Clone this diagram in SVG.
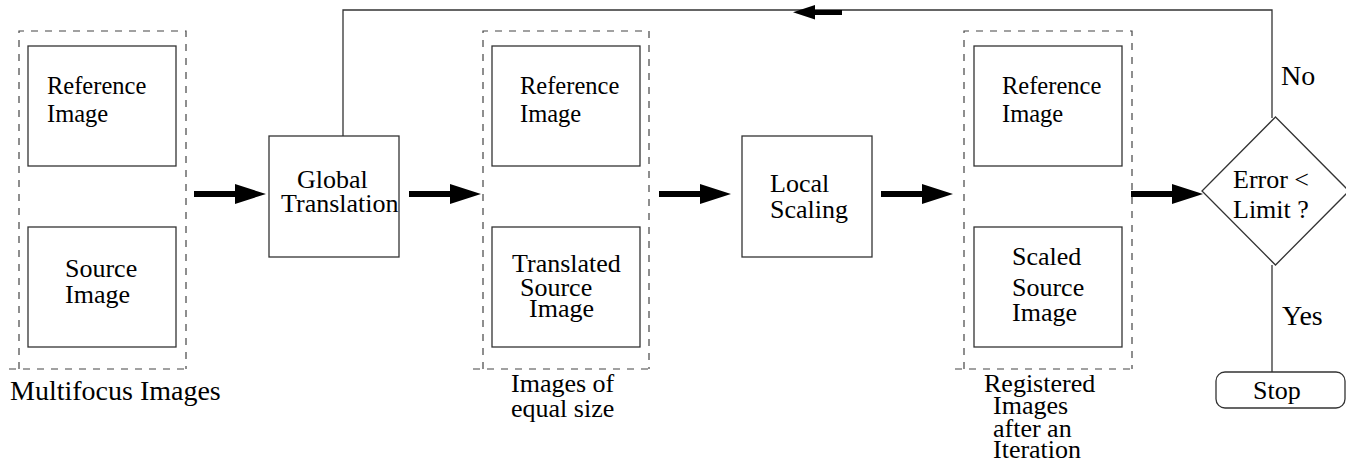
<svg xmlns="http://www.w3.org/2000/svg" width="1346" height="462" viewBox="0 0 1346 462">
<style>
text{fill:#000;font-size:26px}
.ref{font-size:24.5px}
.big{font-size:28px}
.box{fill:#fff;stroke:#333;stroke-width:1.3}
.dash{fill:none;stroke:#444;stroke-width:1.2;stroke-dasharray:7 7}
.wire{fill:none;stroke:#333;stroke-width:1.3}
.arr{fill:#000}
</style>
<defs>
<path id="arr" d="M-72,-3 H-31 V-10 L0,0 L-31,10 V3 H-72 Z"/>
</defs>
<g id="connectors">
<polyline class="wire" points="343,137 343,10 1272,10 1272,118"/>
<line class="wire" x1="1272" y1="265" x2="1272" y2="372"/>
<path class="arr" d="M793,12.3 L815,5 V10 H842 V15 H815 V19.6 Z"/>
<use href="#arr" class="arr" x="266" y="194"/>
<use href="#arr" class="arr" x="481" y="194"/>
<use href="#arr" class="arr" x="731" y="194"/>
<use href="#arr" class="arr" x="953" y="194"/>
<use href="#arr" class="arr" x="1203" y="194"/>
</g>
<g font-family="Liberation Serif, serif">
<g id="group-multifocus">
<path class="dash" d="M19,369 V31 H186 V369 M9,369 H186"/>
<text class="big" x="10" y="400">Multifocus Images</text>
</g>
<g id="ref1">
<rect class="box" x="28" y="46" width="148" height="120"/>
<text class="ref" x="47" y="94">Reference</text>
<text class="ref" x="47" y="122">Image</text>
</g>
<g id="src1">
<rect class="box" x="28" y="227" width="148" height="120"/>
<text x="65" y="277">Source</text>
<text x="65" y="303">Image</text>
</g>
<g id="global">
<rect class="box" x="269" y="136" width="130" height="121"/>
<text x="297" y="188">Global</text>
<text x="281" y="212">Translation</text>
</g>
<g id="group-equal">
<path class="dash" d="M483,369 V31 H649 V369 M473,369 H649"/>
<text x="511" y="392">Images of</text>
<text x="511" y="417">equal size</text>
</g>
<g id="ref2">
<rect class="box" x="492" y="46" width="148" height="120"/>
<text class="ref" x="520" y="94">Reference</text>
<text class="ref" x="520" y="122">Image</text>
</g>
<g id="src2">
<rect class="box" x="492" y="227" width="148" height="120"/>
<text x="512" y="272">Translated</text>
<text x="520" y="296">Source</text>
<text x="529" y="317">Image</text>
</g>
<g id="local">
<rect class="box" x="742" y="136" width="130" height="121"/>
<text x="770" y="192">Local</text>
<text x="770" y="218">Scaling</text>
</g>
<g id="group-registered">
<path class="dash" d="M964,369 V31 H1132 V369 M955,369 H1132"/>
<text x="984" y="392">Registered</text>
<text x="993" y="414">Images</text>
<text x="993" y="437">after an</text>
<text x="993" y="458">Iteration</text>
</g>
<g id="ref3">
<rect class="box" x="974" y="46" width="148" height="120"/>
<text class="ref" x="1002" y="94">Reference</text>
<text class="ref" x="1002" y="122">Image</text>
</g>
<g id="src3">
<rect class="box" x="974" y="227" width="148" height="120"/>
<text x="1012" y="265">Scaled</text>
<text x="1012" y="296">Source</text>
<text x="1012" y="321">Image</text>
</g>
<g id="decision">
<polygon class="box" points="1275.5,117 1349,191 1275.5,265 1202,191"/>
<text x="1233" y="187.5">Error &lt;</text>
<text x="1233" y="217.5">Limit ?</text>
</g>
<g id="labels">
<text class="big" x="1281" y="85">No</text>
<text class="big" x="1282" y="325">Yes</text>
</g>
<g id="stop">
<rect class="box" x="1216" y="372" width="129" height="36" rx="9"/>
<text x="1253" y="399">Stop</text>
</g>
</g>
</svg>
